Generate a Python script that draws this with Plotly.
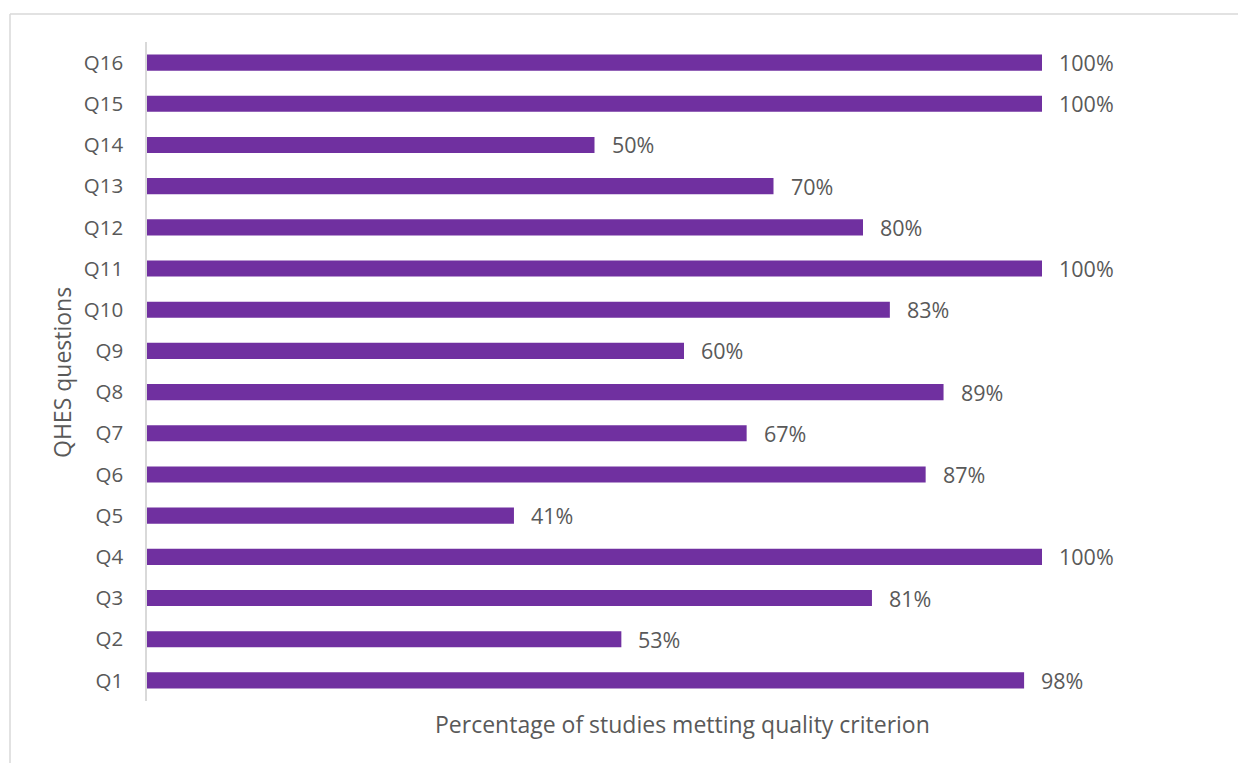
import plotly.graph_objects as go

questions = ["Q1", "Q2", "Q3", "Q4", "Q5", "Q6", "Q7", "Q8",
             "Q9", "Q10", "Q11", "Q12", "Q13", "Q14", "Q15", "Q16"]
percentages = [98, 53, 81, 100, 41, 87, 67, 89, 60, 83, 100, 80, 70, 50, 100, 100]

W, H = 1238, 763
L, R, T, B = 147, 196, 42, 62
pw, ph = W - L - R, H - T - B

def px(x):
    return (x - L) / pw

def py(y):
    return (H - B - y) / ph

FONT = "Open Sans"
TXT = "#595959"

fig = go.Figure()
fig.add_trace(go.Bar(
    x=percentages, y=questions, orientation="h",
    marker=dict(color="#7030A0", line=dict(width=0)),
    width=0.39, hoverinfo="skip",
))

annotations = []
for q, v in zip(questions, percentages):
    annotations.append(dict(
        x=v, y=q, xref="x", yref="y", text=f"{v}%", showarrow=False,
        xanchor="left", yanchor="middle", xshift=15,
        font=dict(family=FONT, size=21.5, color=TXT),
    ))
annotations.append(dict(
    x=px(682), y=py(724), xref="paper", yref="paper",
    text="Percentage of studies metting quality criterion", showarrow=False,
    xanchor="center", yanchor="middle",
    font=dict(family=FONT, size=23, color=TXT),
))
annotations.append(dict(
    x=px(62), y=py(373), xref="paper", yref="paper",
    text="QHES questions", showarrow=False, textangle=-90,
    xanchor="center", yanchor="middle",
    font=dict(family=FONT, size=23, color=TXT),
))

shapes = [
    dict(type="line", xref="paper", yref="paper",
         x0=px(10), x1=px(10), y0=py(14), y1=py(800),
         line=dict(color="#d9d9d9", width=1.5)),
    dict(type="line", xref="paper", yref="paper",
         x0=px(10), x1=px(1300), y0=py(14), y1=py(14),
         line=dict(color="#d9d9d9", width=1.5)),
]

fig.update_layout(
    width=W, height=H,
    margin=dict(l=L, r=R, t=T, b=B),
    paper_bgcolor="white", plot_bgcolor="white",
    showlegend=False,
    annotations=annotations, shapes=shapes,
    xaxis=dict(range=[0, 100], showticklabels=False, showgrid=False,
               zeroline=False, showline=False, ticks=""),
    yaxis=dict(categoryorder="array", categoryarray=questions,
               showgrid=False, zeroline=False,
               showline=True, linecolor="#d9d9d9", linewidth=1.5,
               ticks="outside", ticklen=18, tickcolor="rgba(0,0,0,0)",
               tickfont=dict(family=FONT, size=20.5, color=TXT)),
)

fig.write_html("out.html")
